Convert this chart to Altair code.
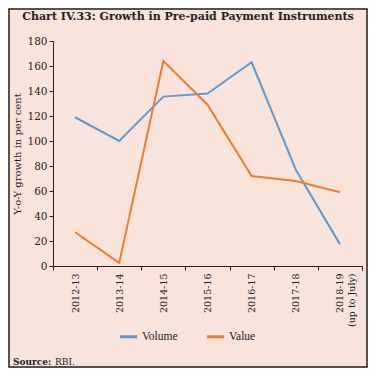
import altair as alt
import pandas as pd

categories = ["2012-13", "2013-14", "2014-15", "2015-16", "2016-17", "2017-18", "2018-19|(up to July)"]
volume = [119, 100, 135.5, 138, 163, 77, 17.5]
value = [27, 2.5, 164, 129, 72, 68, 59]
series_names = ["Volume", "Value"]
series_colors = ["#5b9bd5", "#ed7d31"]
y_ticks = list(range(0, 181, 20))

rows = []
for c, v in zip(categories, volume):
    rows.append({"year": c, "series": "Volume", "growth": v})
for c, v in zip(categories, value):
    rows.append({"year": c, "series": "Value", "growth": v})
df = pd.DataFrame(rows)

SERIF = "DejaVu Serif"

lines = alt.Chart(df).mark_line(strokeWidth=2).encode(
    x=alt.X("year:N", sort=categories, bandPosition=0.5,
            scale=alt.Scale(type="band", paddingInner=0, paddingOuter=0),
            axis=alt.Axis(title=None, labelAngle=270, labelFont=SERIF, labelFontSize=9.5,
                          labelColor="#222", labelExpr="split(datum.label, '|')",
                          tickBand="extent", tickSize=4, tickColor="#222",
                          domainColor="#222", labelPadding=3, labelLineHeight=12)),
    y=alt.Y("growth:Q", scale=alt.Scale(domain=[0, 180], nice=False),
            axis=alt.Axis(title="Y-o-Y growth in per cent", values=y_ticks,
                          titleFont=SERIF, titleFontSize=10, titleFontWeight="normal",
                          titleColor="#222", titlePadding=4,
                          labelFont=SERIF, labelFontSize=10.5, labelColor="#222",
                          tickSize=4, tickColor="#222", domainColor="#222",
                          labelPadding=2, grid=False)),
    color=alt.Color("series:N", sort=series_names,
                    scale=alt.Scale(domain=series_names, range=series_colors),
                    legend=alt.Legend(title=None, orient="none", direction="horizontal",
                                      legendX=65, legendY=285, symbolType="stroke",
                                      symbolSize=300, symbolStrokeWidth=3,
                                      labelFont="Liberation Serif", labelFontSize=11.5,
                                      labelColor="#222",
                                      columnPadding=22, labelOffset=3)),
)

one = pd.DataFrame({"k": [0]})
border = alt.Chart(one).mark_rect(fill=None, stroke="#222", strokeWidth=1.5).encode(
    x=alt.value(-44), x2=alt.value(314), y=alt.value(-32), y2=alt.value(326))

title = alt.Chart(one).mark_text(text="Chart IV.33: Growth in Pre-paid Payment Instruments",
                                 font=SERIF, fontSize=11, fontWeight="bold", color="#222",
                                 align="center", baseline="middle").encode(
    x=alt.value(135), y=alt.value(-24))

src1 = alt.Chart(one).mark_text(text="Source:", font=SERIF, fontSize=9, fontWeight="bold",
                                color="#222", align="left", baseline="middle").encode(
    x=alt.value(-40), y=alt.value(321))
src2 = alt.Chart(one).mark_text(text="RBI.", font=SERIF, fontSize=9, color="#222",
                                align="left", baseline="middle").encode(
    x=alt.value(2), y=alt.value(321))

chart = alt.layer(border, lines, title, src1, src2).properties(
    width=309, height=225,
    autosize=alt.AutoSizeParams(type="none"),
    padding={"left": 45, "top": 33, "right": 6, "bottom": 102},
    background="#f9e4dc",
).configure_view(stroke=None)

chart.save("out.html", embed_options={"renderer": "svg", "actions": False})
